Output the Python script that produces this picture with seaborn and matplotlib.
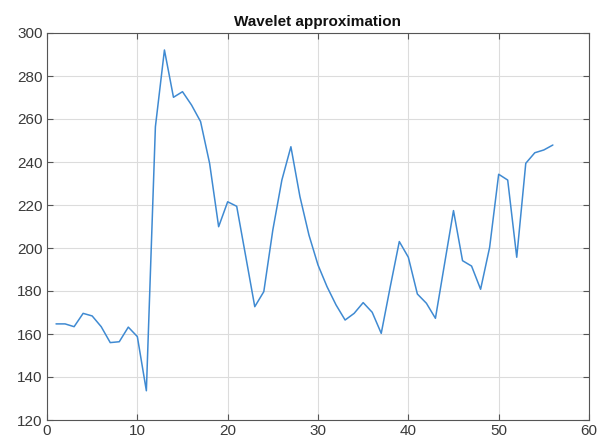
import numpy as np
import pandas as pd
import matplotlib
matplotlib.use("Agg")
import matplotlib.pyplot as plt
import seaborn as sns

x_index = list(range(1, 57))
approx_values = [
    164.7, 164.7, 163.4, 169.6, 168.4, 163.4, 156.0, 156.4, 163.2, 158.8,
    133.6, 256.4, 292.1, 270.1, 272.7, 266.5, 258.8, 239.4, 209.9, 221.5,
    219.4, 196.1, 172.7, 179.7, 208.4, 231.6, 247.1, 223.9, 206.0, 192.1,
    182.0, 173.5, 166.5, 169.6, 174.6, 170.1, 160.3, 182.0, 203.0, 195.7,
    178.6, 174.3, 167.3, 192.4, 217.4, 194.1, 191.6, 180.8, 200.3, 234.3,
    231.6, 195.7, 239.4, 244.3, 245.6, 247.9,
]
title_text = "Wavelet approximation"
x_ticks = [0, 10, 20, 30, 40, 50, 60]
y_ticks = [120, 140, 160, 180, 200, 220, 240, 260, 280, 300]

df = pd.DataFrame({"x": x_index, "y": approx_values})

sns.set_theme(style="whitegrid")
plt.rcParams['font.family'] = ['Liberation Sans', 'DejaVu Sans']

fig = plt.figure(figsize=(6.08, 4.46), dpi=100)
ax = fig.add_axes([47/608, 1-420/446, (589-47)/608, (420-33)/446])

sns.lineplot(data=df, x="x", y="y", ax=ax, color="#3f8ad2", linewidth=1.1)

ax.set_xlim(0, 60)
ax.set_ylim(120, 300)
ax.set_xticks(x_ticks)
ax.set_yticks(y_ticks)
ax.set_xlabel("")
ax.set_ylabel("")
ax.set_title(title_text, fontsize=11, fontweight="bold", color="#111111", pad=5)

ax.set_facecolor("white")
ax.grid(True, color="#dcdcdc", linewidth=0.8)
for s in ax.spines.values():
    s.set_visible(True)
    s.set_color("#555555")
    s.set_linewidth(0.8)
ax.tick_params(direction="in", length=4, width=0.8, colors="#555555",
               labelcolor="#3a3a3a", labelsize=11,
               top=True, right=True, bottom=True, left=True)
ax.tick_params(axis="x", pad=3)
ax.tick_params(axis="y", pad=3)

fig.savefig("out.png", dpi=100, facecolor="white")
